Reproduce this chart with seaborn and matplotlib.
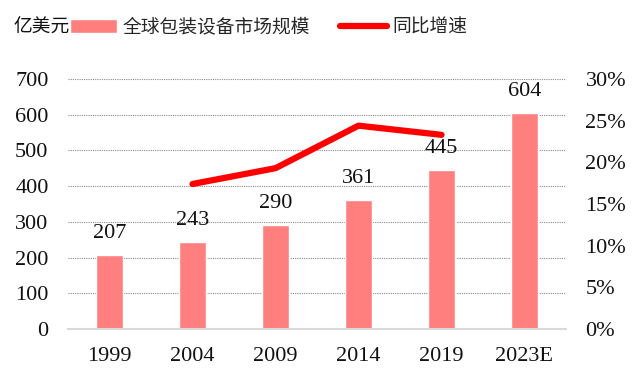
import matplotlib
matplotlib.use("Agg")
import matplotlib.pyplot as plt
import seaborn as sns
import pandas as pd

# 数据
years = ["1999", "2004", "2009", "2014", "2019", "2023E"]
market_size = [207, 243, 290, 361, 445, 604]
growth_years = ["2004", "2009", "2014", "2019"]
growth_rate = [0.174, 0.193, 0.244, 0.233]

sns.set_theme(style="white")
plt.rcParams["font.family"] = ["Liberation Serif", "Noto Sans CJK SC"]

df_bar = pd.DataFrame({"year": years, "size": market_size})

W, H = 633, 383
fig = plt.figure(figsize=(W / 100, H / 100), dpi=100)
ax = fig.add_axes([68 / W, 1 - 329 / H, 498 / W, 250 / H])

sns.barplot(data=df_bar, x="year", y="size", color="#FF7F7F", saturation=1,
            width=0.325, ax=ax, label="全球包装设备市场规模", order=years)

for i, v in enumerate(market_size):
    ax.annotate(str(v), (i, v), xytext=(0, 9), textcoords="offset points",
                ha="center", va="bottom", fontsize=16, color="#111111")

ax.set_ylim(0, 700)
ax.set_xlim(-0.5, 5.5)
ax.set_yticks(range(0, 701, 100))
ax.set_xlabel("")
ax.set_ylabel("")
ax.tick_params(axis="both", labelsize=16, length=0, colors="#111111")
ax.tick_params(axis="y", pad=14)
ax.tick_params(axis="x", pad=13)
ax.grid(axis="y", linestyle=(0, (1, 1)), color="#8A8A8A", linewidth=0.8)
ax.set_axisbelow(True)
for s in ["top", "right", "left"]:
    ax.spines[s].set_visible(False)
ax.spines["bottom"].set_color("#D9D9D9")
ax.spines["bottom"].set_linewidth(1.5)

ax2 = ax.twinx()
xpos = [years.index(y) for y in growth_years]
sns.lineplot(x=xpos, y=growth_rate, color="#FF0000", linewidth=4.5,
             ax=ax2, label="同比增速", solid_capstyle="round")
ax2.set_ylim(0, 0.30)
ax2.set_yticks([0, 0.05, 0.10, 0.15, 0.20, 0.25, 0.30])
ax2.set_yticklabels([f"{int(round(t * 100))}%" for t in ax2.get_yticks()])
ax2.tick_params(axis="y", labelsize=16, length=0, colors="#111111", pad=14)
ax2.set_xlim(-0.5, 5.5)
for s in ["top", "right", "left", "bottom"]:
    ax2.spines[s].set_visible(False)
ax2.grid(False)

h1, l1 = ax.get_legend_handles_labels()
h2, l2 = ax2.get_legend_handles_labels()
if ax.get_legend():
    ax.get_legend().remove()
if ax2.get_legend():
    ax2.get_legend().remove()
fig.legend(h1 + h2, l1 + l2, loc="center left",
           bbox_to_anchor=(70 / W, 1 - 27 / H), borderaxespad=0, borderpad=0,
           ncol=2, frameon=False, handlelength=2.5,
           columnspacing=1.6, handletextpad=0.3,
           prop={"family": ["Noto Sans CJK SC"], "size": 13.5})
fig.text(13 / W, 1 - 27 / H, "亿美元", va="center", ha="left",
         family=["Noto Sans CJK SC"], fontsize=13.5, color="#111111")

fig.savefig("out.png", dpi=100)
